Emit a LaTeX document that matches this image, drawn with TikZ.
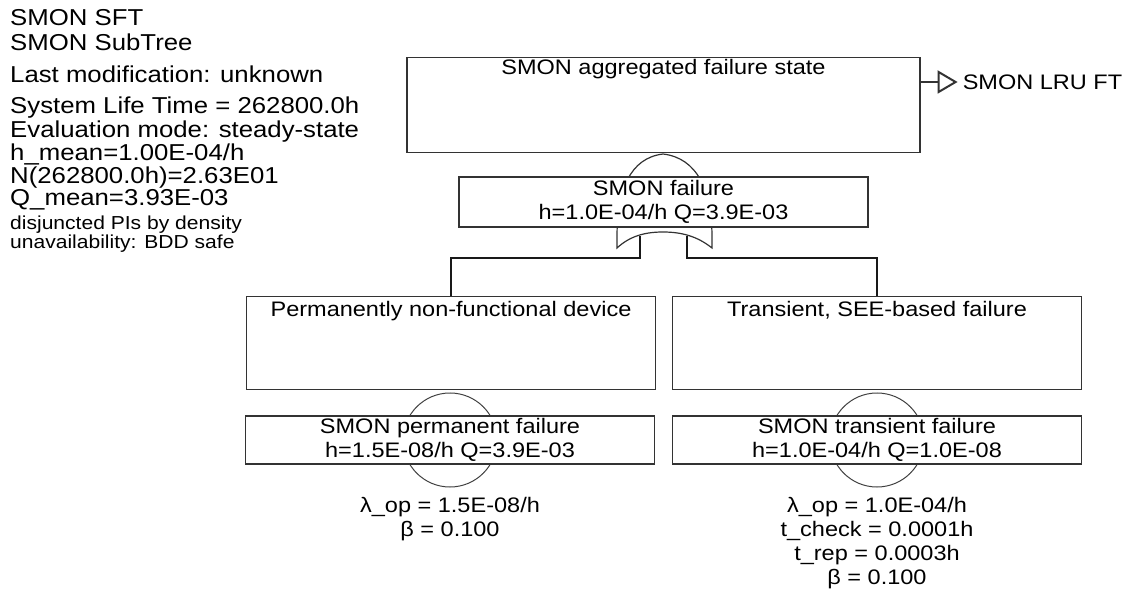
\documentclass[tikz,border=0pt]{standalone}
\usepackage{fontspec}
\setmainfont{Liberation Sans}[FakeStretch=1.12]
\usetikzlibrary{positioning}

\newcommand{\boxfont}{\fontsize{21}{24}\selectfont}

\tikzset{
  infotext/.style={anchor=base west, inner sep=0pt, font=\fontsize{23}{25}\selectfont},
  infosmall/.style={anchor=base west, inner sep=0pt, font=\fontsize{18.8}{20}\selectfont},
  event/.style={draw=black!80, line width=1.2pt, fill=white, inner sep=0pt,
    minimum width=409pt, align=center, font=\boxfont},
  basic/.style={circle, draw=black!75, line width=1pt, inner sep=0pt, minimum size=94pt},
  params/.style={inner sep=0pt, align=center, font=\boxfont},
  conn/.style={line width=2.4pt, black!90},
  gateline/.style={line width=1.2pt, black!80},
}

\begin{document}
\begin{tikzpicture}[x=1pt, y=-1pt]
  \useasboundingbox (0,0) rectangle (1128,596);
  % Header information
  \foreach \yb/\txt [count=\i] in {26/{SMON SFT}, 51/{SMON SubTree},
      83/{Last modification: unknown}, 114/{System Life Time = 262800.0h},
      138/{Evaluation mode: steady-state}, 161/{h\_mean=1.00E-04/h},
      184/{N(262800.0h)=2.63E01}, 206/{Q\_mean=3.93E-03}}
    \node[infotext] (info\i) at (10,\yb) {\txt};
  \node[infosmall] (info9) at (10,230) {disjuncted PIs by density};
  \node[infosmall] (info10) at (10,249) {unavailability: BDD safe};

  % OR gate below the top event
  \draw[gateline] (663,154) .. controls (630,158) and (617,190) .. (617,237)
    -- (617,248) .. controls (630,236) and (645,232) .. (663,232)
    .. controls (681,232) and (697,236) .. (712,248) -- (712,237)
    .. controls (712,190) and (697,158) .. (663,154);
  \coordinate (in1) at (640,236);
  \coordinate (in2) at (687,236);

  % Basic event circles
  \node[basic] (pfc) at (450,440) {};
  \node[basic] (tfc) at (877,440) {};

  % Top event
  \node[event, anchor=north, minimum width=513pt, text height=17pt, text depth=78pt]
    (agg) at (663.5,57) {SMON aggregated failure state};
  \node[event, minimum height=50pt] (fail) at (663.5,202)
    {SMON failure\\h=1.0E-04/h Q=3.9E-03};

  % Intermediate events
  \node[event, anchor=north, text height=20pt, text depth=73pt]
    (pnf) at (451,296) {Permanently non-functional device};
  \node[event, anchor=north, text height=20pt, text depth=73pt]
    (tsf) at (877,296) {Transient, SEE-based failure};
  \draw[conn] (in1) -- ++(0,22) -| (pnf.north);
  \draw[conn] (in2) -- ++(0,22) -| (tsf.north);

  % Basic events
  \node[event, minimum height=48pt] (pf) at (450,440)
    {SMON permanent failure\\h=1.5E-08/h Q=3.9E-03};
  \node[event, minimum height=48pt] (tf) at (877,440)
    {SMON transient failure\\h=1.0E-04/h Q=1.0E-08};
  \node[params, below=32pt of pf] (pfp) {λ\_op = 1.5E-08/h\\β = 0.100};
  \node[params, below=32pt of tf] (tfp)
    {λ\_op = 1.0E-04/h\\t\_check = 0.0001h\\t\_rep = 0.0003h\\β = 0.100};

  % Transfer out
  \draw[gateline, line width=2pt] ([yshift=-25pt]agg.north east) -- ++(18,0) coordinate (xfer);
  \draw[gateline, line width=2pt] (xfer) -- ++(0,-10) -- ++(17,10) coordinate (xtip)
    -- ++(-17,10) -- cycle;
  \node[params, right=7pt of xtip] (lru) {SMON LRU FT};
\end{tikzpicture}
\end{document}
